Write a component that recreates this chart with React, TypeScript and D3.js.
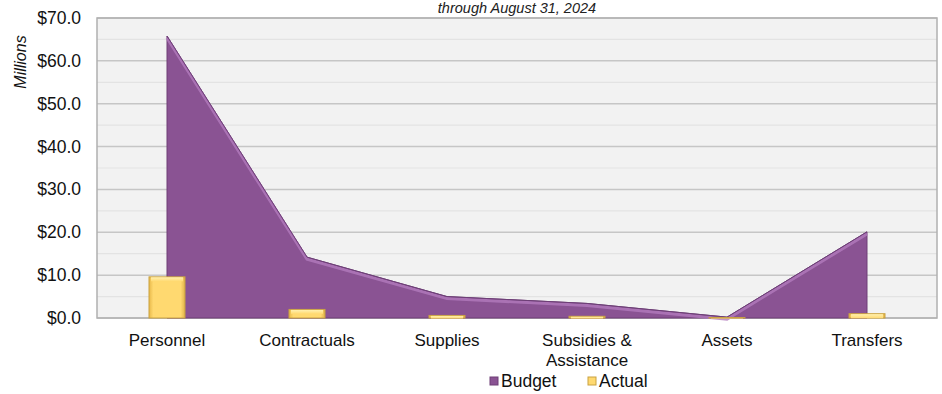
import React from "react";
import * as d3 from "d3";

const categories = ["Personnel", "Contractuals", "Supplies", "Subsidies & Assistance", "Assets", "Transfers"];
const categoryLines = [["Personnel"], ["Contractuals"], ["Supplies"], ["Subsidies &", "Assistance"], ["Assets"], ["Transfers"]];
const budget = [65.8, 14.2, 5.0, 3.4, 0.2, 20.1];
const actual = [9.6, 2.0, 0.6, 0.4, 0.1, 1.0];
const yTicks = [0, 10, 20, 30, 40, 50, 60, 70];
const yMinorTicks = [5, 15, 25, 35, 45, 55, 65];
const title = "through August 31, 2024";
const yLabel = "Millions";
const legendItems = ["Budget", "Actual"];

const W = 942, H = 394;
const plot = { left: 97, right: 937, top: 18, bottom: 318 };
const FONT = "'Liberation Sans', Arial, sans-serif";

export default function App() {
  const x = d3.scaleBand<string>().domain(categories).range([plot.left, plot.right]).padding(0);
  const y = d3.scaleLinear().domain([0, 70]).range([plot.bottom, plot.top]);
  const cx = (c: string) => (x(c) as number) + x.bandwidth() / 2;

  const data = categories.map((c, i) => ({ c, b: budget[i], a: actual[i] }));
  const area = d3.area<typeof data[0]>().x(d => cx(d.c)).y0(y(0)).y1(d => y(d.b));
  const topLine = d3.line<typeof data[0]>().x(d => cx(d.c)).y(d => y(d.b));
  const barW = 36;

  return (
    <svg width={W} height={H} style={{ position: "absolute", left: 0, top: 0 }} fontFamily={FONT}>
      <defs>
        <linearGradient id="barGrad" x1="0" x2="1" y1="0" y2="0">
          <stop offset="0" stopColor="#E8B94A" />
          <stop offset="0.12" stopColor="#FFD970" />
          <stop offset="0.88" stopColor="#FFD970" />
          <stop offset="1" stopColor="#E0B24A" />
        </linearGradient>
        <linearGradient id="barTop" x1="0" x2="0" y1="0" y2="1">
          <stop offset="0" stopColor="#FFF0B0" />
          <stop offset="1" stopColor="#FFD970" />
        </linearGradient>
      </defs>
      <rect x={0} y={0} width={W} height={H} fill="#ffffff" />
      <text x={(plot.left + plot.right) / 2} y={13} textAnchor="middle" fontSize={14.5} fontStyle="italic" fill="#222">{title}</text>
      <rect x={plot.left} y={plot.top} width={plot.right - plot.left} height={plot.bottom - plot.top} fill="#F2F2F2" />
      {yMinorTicks.map(t => (
        <line key={"m" + t} x1={plot.left} x2={plot.right} y1={y(t)} y2={y(t)} stroke="#E3E3E3" strokeWidth={1.2} />
      ))}
      {yTicks.map(t => (
        <line key={"g" + t} x1={plot.left} x2={plot.right} y1={y(t)} y2={y(t)} stroke="#C6C6C6" strokeWidth={1.5} />
      ))}
      <rect x={plot.left} y={plot.top} width={plot.right - plot.left} height={plot.bottom - plot.top} fill="none" stroke="#B0B0B0" strokeWidth={1.5} />
      <path d={area(data) || ""} fill="#8A5393" stroke="#6E3F77" strokeWidth={1} />
      <path d={topLine(data) || ""} fill="none" stroke="#B27ABD" strokeWidth={3} transform="translate(0,2)" opacity={0.8} />
      <path d={topLine(data) || ""} fill="none" stroke="#6E3F77" strokeWidth={1} />
      {data.map(d => {
        const x0 = cx(d.c) - barW / 2;
        const yt = y(d.a);
        const h = y(0) - yt;
        return (
          <g key={d.c}>
            <rect x={x0} y={yt} width={barW} height={h} fill="url(#barGrad)" stroke="#C9A240" strokeWidth={1} />
            <rect x={x0 + 2} y={yt + 0.5} width={barW - 4} height={Math.min(4, h)} fill="url(#barTop)" />
          </g>
        );
      })}
      {yTicks.map(t => (
        <text key={"t" + t} x={81} y={y(t) + 6} textAnchor="end" fontSize={17.5} fill="#111">{"$" + t.toFixed(1)}</text>
      ))}
      <text transform={`translate(26,62) rotate(-90)`} textAnchor="middle" fontSize={16} fontStyle="italic" fill="#111">{yLabel}</text>
      {categories.map((c, i) => (
        <text key={c} x={cx(c)} y={346} textAnchor="middle" fontSize={17} fill="#111">
          {categoryLines[i].map((l, j) => (
            <tspan key={j} x={cx(c)} dy={j === 0 ? 0 : 19.5}>{l}</tspan>
          ))}
        </text>
      ))}
      {legendItems.map((l, i) => {
        const lx = i === 0 ? 490 : 588;
        return (
          <g key={l}>
            <rect x={lx} y={377} width={8} height={8} fill={i === 0 ? "#8A5393" : "#FFD970"} stroke={i === 0 ? "#6E3F77" : "#C9A240"} />
            <text x={lx + 11} y={387} fontSize={17.5} fill="#111">{l}</text>
          </g>
        );
      })}
    </svg>
  );
}
